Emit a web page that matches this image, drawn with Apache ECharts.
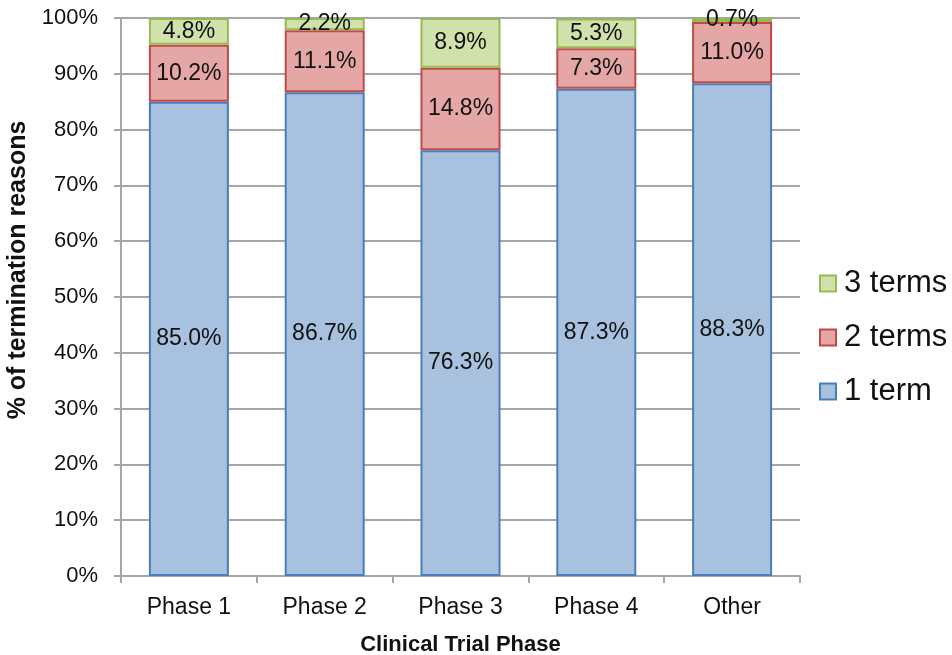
<!DOCTYPE html>
<html>
<head>
<meta charset="utf-8">
<script src="https://cdn.jsdelivr.net/npm/echarts@6/dist/echarts.min.js"></script>
<style>
  html, body { margin: 0; padding: 0; background: #fff; }
  #main { width: 952px; height: 655px; }
</style>
</head>
<body>
<div id="main"></div>
<script>
// categories and values
const phases = ['Phase 1', 'Phase 2', 'Phase 3', 'Phase 4', 'Other']
const oneTerm = [85.0, 86.7, 76.3, 87.3, 88.3]
const twoTerms = [10.2, 11.1, 14.8, 7.3, 11.0]
const threeTerms = [4.8, 2.2, 8.9, 5.3, 0.7]
const yTicks = [0, 10, 20, 30, 40, 50, 60, 70, 80, 90, 100]

const font = 'Liberation Sans, Arial, Helvetica, sans-serif'
const gridColor = '#a6a6a6'

function seg(name, data, fill, border) {
  return {
    name: name,
    type: 'bar',
    stack: 'total',
    barWidth: 80,
    data: data,
    itemStyle: { color: fill, borderColor: border, borderWidth: 2 },
    label: {
      show: true,
      position: 'inside',
      color: '#111',
      fontFamily: font,
      fontSize: 23,
      formatter: p => p.value.toFixed(1) + '%'
    },
    emphasis: { disabled: true }
  }
}

const chart = echarts.init(document.getElementById('main'))
chart.setOption({
  backgroundColor: '#fff',
  animation: false,
  grid: { left: 121, right: 152, top: 18, bottom: 79, outerBoundsMode: 'none', containLabel: false },
  legend: {
    orient: 'vertical',
    left: 814,
    top: 263,
    icon: 'rect',
    itemWidth: 16,
    itemHeight: 16,
    itemGap: 23,
    textStyle: { fontFamily: font, fontSize: 31, color: '#111', padding: [0, 0, 0, 3] },
    data: ['3 terms', '2 terms', '1 term']
  },
  xAxis: {
    type: 'category',
    data: phases,
    name: 'Clinical Trial Phase',
    nameLocation: 'middle',
    nameGap: 58,
    nameTextStyle: { fontFamily: font, fontSize: 22, fontWeight: 'bold', color: '#111' },
    axisLine: { lineStyle: { color: gridColor, width: 2 } },
    axisTick: { show: true, length: 7, lineStyle: { color: gridColor, width: 2 } },
    axisLabel: { fontFamily: font, fontSize: 23, color: '#111', margin: 20 }
  },
  yAxis: {
    type: 'value',
    min: 0,
    max: 100,
    interval: 10,
    name: '% of termination reasons',
    nameLocation: 'middle',
    nameGap: 84,
    nameTextStyle: {
      fontFamily: font,
      fontSize: 25,
      fontWeight: 'bold',
      color: '#111',
      padding: [0, 0, 0, 54]
    },
    axisLine: { show: true, lineStyle: { color: gridColor, width: 2 } },
    axisTick: { show: true, length: 7, lineStyle: { color: gridColor, width: 2 } },
    splitLine: { lineStyle: { color: gridColor, width: 2 } },
    axisLabel: {
      fontFamily: font,
      fontSize: 22,
      color: '#111',
      margin: 23,
      formatter: v => (yTicks.includes(v) ? v + '%' : '')
    }
  },
  series: [
    seg('1 term', oneTerm, '#a7c1df', '#4a7ebb'),
    seg('2 terms', twoTerms, '#e5a7a6', '#be4b48'),
    seg('3 terms', threeTerms, '#d1e1ab', '#98b954')
  ]
})
</script>
</body>
</html>
